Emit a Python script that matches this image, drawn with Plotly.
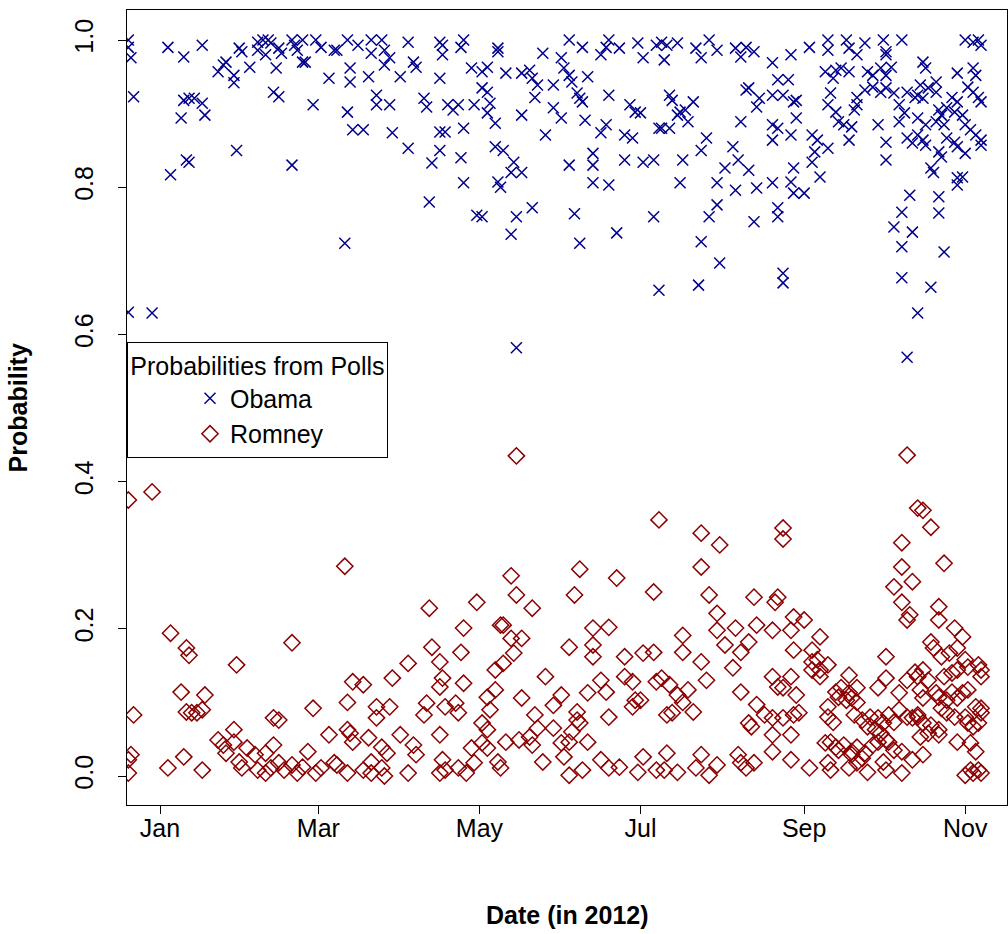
import pandas as pd
import plotly.graph_objects as go

# Days counted from 2012-01-01 (negative = December 2011)
obama_day = [
    -12, -12, -11, -10, -12, -3, 3, 4, 8, 9, 9, 10, 11, 11, 13, 16, 16, 17, 22, 24, 25, 28, 28, 29,
    30, 31, 34, 37, 39, 41, 37, 40, 42, 45, 44, 43, 45, 46, 50, 50, 51, 52, 54,
    54, 55, 59, 61, 66, 67, 71, 72, 72, 64, 58, 71, 73, 77, 75, 80, 80, 79, 84, 85, 85, 87, 82, 82,
    87, 88, 91, 94, 94, 96, 97, 70, 100, 101, 102, 103, 106, 107, 107, 106, 106, 108, 106, 109, 111,
    113, 114, 115, 115, 115, 114, 118, 119, 120,
    128, 128, 145, 124, 122, 131, 137, 140, 141, 143, 122, 124, 125, 124, 127, 142, 137, 146, 149,
    152, 153, 155, 156, 155, 160, 167, 169, 170, 174, 181, 183, 188, 162, 158, 159, 160, 149, 152,
    161, 170, 169, 167, 176, 179, 178, 180, 182, 189, 127, 130, 134, 133, 137, 128, 129, 122, 135,
    141, 133, 157, 159, 155, 164, 164, 164, 170, 176, 183, 187, 173, 187, 135, 189,
    190, 192, 196, 191, 203, 205, 208, 211, 218, 220, 222, 225, 232, 239, 246, 234, 238, 222, 223,
    193, 194, 202, 197, 199, 200, 196, 227, 232, 236, 240, 241, 226, 190, 193, 207, 220, 232, 234,
    239, 241, 232, 247, 248, 247, 205, 217, 219, 214, 223, 240, 198, 197, 211, 218, 226, 232, 239,
    240, 244, 211, 208, 225, 234, 234, 205, 212, 236, 236, 204,
    253, 260, 267, 274, 281, 253, 261, 264, 275, 275, 252, 256, 258, 261, 255, 268, 270, 273, 277,
    275, 267, 270, 273, 275, 278, 254, 253, 256, 264, 264, 263, 283, 286, 280, 282, 257, 259, 262,
    272, 280, 249, 253, 261, 275, 275, 283, 285, 250, 284, 281, 278, 285, 281, 281, 287, 283,
    305, 308, 310, 311, 289, 290, 302, 308, 309, 288, 291, 294, 294, 306, 308, 310, 311, 287, 289,
    300, 302, 295, 296, 298, 301, 304, 287, 290, 294, 297, 305, 307, 309, 311, 311, 287, 289, 290,
    298, 301, 302, 305, 295, 296, 292, 293, 302, 304, 302, 295, 295, 297, 292,
]
obama_prob = [
    1.00, 0.99, 0.976, 0.923, 0.63, 0.629, 0.99, 0.817, 0.894, 0.977, 0.918, 0.837, 0.834, 0.921,
    0.921, 0.993, 0.914, 0.898, 0.957, 0.966, 0.97, 0.952, 0.942, 0.85,
    0.989, 0.984, 0.963, 0.997, 1.0, 1.0, 0.986, 0.98, 0.996, 0.989, 0.962, 0.929, 0.923, 0.982,
    0.83, 1.0, 0.993, 0.986, 0.97,
    1.0, 0.97, 1.0, 0.99, 0.986, 0.986, 1.0, 0.962, 0.943, 0.948, 0.912, 0.902, 0.878, 0.878, 0.993,
    1.0, 0.982, 0.95, 1.0, 0.986, 0.966, 0.976, 0.925, 0.912,
    0.912, 0.874, 0.95, 0.997, 0.853, 0.97, 0.963, 0.724, 0.921, 0.909, 0.78, 0.833, 0.997, 0.993,
    0.98, 0.948, 0.875, 0.875, 0.85, 0.912, 0.905,
    0.912, 0.84, 0.88, 0.806, 1.0, 0.99, 0.962, 0.912, 0.762,
    0.989, 0.984, 0.982, 0.963, 0.957, 0.955, 0.955, 0.959, 0.948, 0.939, 0.935, 0.929, 0.914,
    0.901, 0.887, 0.922, 0.898, 0.871, 0.939,
    0.976, 0.962, 0.952, 0.943, 1.0, 0.99, 0.98, 0.99, 1.0, 0.989, 0.996, 0.976, 0.993, 0.95,
    0.928, 0.921, 0.916, 0.908, 0.894,
    0.891, 0.925, 0.885, 0.874, 0.871, 0.867, 0.912, 0.902, 0.901, 0.88, 0.855, 0.85, 0.834, 0.82,
    0.82, 0.807, 0.8, 0.76, 0.76,
    0.772, 0.736, 0.764, 0.724, 0.83, 0.846, 0.83, 0.806, 0.803, 0.837, 0.834, 0.837, 0.738, 0.76,
    0.582, 0.66,
    0.997, 0.993, 0.996, 0.973, 0.989, 0.976, 1.0, 0.986, 0.989, 0.977, 0.99, 0.984, 0.969, 0.98,
    0.99, 0.946, 0.946, 0.932, 0.935,
    0.925, 0.918, 0.916, 0.902, 0.905, 0.889, 0.898, 0.921, 0.925, 0.925, 0.916, 0.918, 0.909,
    0.88, 0.88, 0.867, 0.889, 0.885, 0.88,
    0.871, 0.894, 0.864, 0.871, 0.848, 0.834, 0.85, 0.855, 0.837, 0.826, 0.823, 0.826, 0.837,
    0.806, 0.806, 0.796, 0.799, 0.806, 0.807,
    0.792, 0.792, 0.776, 0.76, 0.753, 0.772, 0.76, 0.726, 0.697, 0.683, 0.67, 0.667,
    1.0, 1.0, 0.996, 1.0, 1.0, 0.986, 0.989, 0.98, 0.984, 0.98, 0.957, 0.959, 0.962, 0.957, 0.948,
    0.957, 0.952, 0.962, 0.963,
    0.952, 0.932, 0.936, 0.929, 0.935, 0.928, 0.928, 0.912, 0.902, 0.922, 0.912, 0.905, 0.929,
    0.922, 0.912, 0.901, 0.889, 0.885, 0.882,
    0.885, 0.889, 0.864, 0.853, 0.864, 0.861, 0.837, 0.867, 0.86, 0.814, 0.789, 0.766, 0.746,
    0.739, 0.719, 0.677, 0.629, 0.569,
    1.0, 0.997, 1.0, 0.993, 0.97, 0.962, 0.955, 0.962, 0.952, 0.939, 0.935, 0.943, 0.929, 0.936,
    0.929, 0.922, 0.916, 0.925, 0.921,
    0.922, 0.916, 0.905, 0.898, 0.908, 0.902, 0.898, 0.894, 0.885, 0.889, 0.885, 0.885, 0.878,
    0.871, 0.864, 0.857, 0.871, 0.864, 0.857,
    0.867, 0.861, 0.855, 0.846, 0.848, 0.841, 0.826, 0.82, 0.813, 0.814, 0.803, 0.787, 0.765,
    0.712, 0.664,
]

romney_day = [
    -12, -3, 4, 10, 11, 29, 50, -10, 8, 17, 10, 12, 14, 16, -11, -12, -12, 3, 9, 16, 22, 24, 25,
    28, 28, 33, 36, 40, 43, 30, 31, 37, 40, 42, 45, 47, 50, 52, 54, 43, 45,
    70, 102, 120, 115, 114, 103, 106, 94, 88, 73, 77, 115, 107, 106, 71, 58, 82, 87, 82, 101, 100,
    108, 112, 113, 64, 71, 72, 73, 79, 91, 96, 97, 106, 118, 56, 84, 86, 119, 59, 61, 66, 67, 71,
    77, 80, 80, 84, 85, 94, 107, 106, 108, 113, 116,
    135, 189, 133, 159, 173, 135, 157, 187, 141, 129, 130, 133, 137, 134, 164, 170, 155, 164, 164,
    176, 183, 187, 127, 130, 146, 167, 169, 176, 179, 188, 124, 127, 137, 152, 149, 162, 180, 182,
    179, 125, 142, 158, 158, 170, 122, 124, 143, 149, 156, 159, 131, 136, 140, 141, 152, 155, 162,
    124, 122, 153, 128, 129, 145, 167, 170, 174, 183, 181, 155, 160, 188,
    205, 212, 236, 236, 205, 208, 225, 234, 233, 211, 240, 244, 211, 218, 226, 232, 239, 198, 214,
    223, 220, 198, 240, 247, 205, 217, 247, 247, 207, 190, 193, 200, 196, 198, 202, 192, 194, 220,
    232, 234, 236, 239, 241, 226, 223, 224, 229, 232, 236, 240, 242, 232, 239, 192, 191, 196, 205,
    203, 208, 211, 219, 220, 222, 225, 232, 239, 246,
    283, 287, 281, 281, 278, 285, 281, 284, 283, 250, 275, 249, 250, 253, 250, 261, 272, 275, 280,
    283, 286, 256, 258, 261, 264, 257, 260, 262, 264, 253, 253, 255, 263, 266, 269, 272, 274, 276,
    278, 280, 283, 285, 287, 268, 271, 273, 275, 252, 254, 256, 257, 259, 262, 264, 267, 270, 272,
    276, 278, 281, 285, 253, 254, 261, 264, 268, 274, 275, 281, 262, 266,
    289, 292, 297, 295, 295, 301, 304, 292, 293, 296, 299, 302, 305, 306, 310, 311, 311, 289, 287,
    291, 297, 300, 302, 288, 289, 294, 295, 298, 300, 302, 304, 306, 309, 311, 311, 296, 298, 301,
    305, 306, 308, 310, 287, 289, 292, 295, 288, 291, 295, 302, 307, 309, 289, 307, 308, 310, 311,
    305,
]
romney_prob = [
    0.375, 0.386, 0.194, 0.174, 0.164, 0.151, 0.181, 0.083, 0.114, 0.11, 0.087, 0.086, 0.086, 0.09,
    0.029, 0.022, 0.004, 0.011, 0.026, 0.008, 0.049, 0.042, 0.031,
    0.063, 0.046, 0.038, 0.029, 0.031, 0.042, 0.019, 0.011, 0.008, 0.004, 0.011, 0.018, 0.008,
    0.015, 0.004, 0.012, 0.079, 0.076,
    0.285, 0.228, 0.236, 0.201, 0.168, 0.175, 0.155, 0.153, 0.133, 0.128, 0.124, 0.126, 0.133,
    0.121, 0.1, 0.092, 0.094, 0.094, 0.079, 0.099, 0.083,
    0.094, 0.099, 0.086, 0.056, 0.063, 0.058, 0.046, 0.052, 0.056, 0.042, 0.029, 0.056, 0.038,
    0.033, 0.039, 0.031, 0.018, 0.004, 0.011, 0.018, 0.015, 0.004,
    0.008, 0.019, 0.004, 0.011, 0.0, 0.004, 0.022, 0.004, 0.008, 0.011, 0.004,
    0.435, 0.348, 0.272, 0.281, 0.269, 0.246, 0.246, 0.25, 0.228, 0.205, 0.205, 0.187, 0.187,
    0.167, 0.201, 0.202, 0.175, 0.178, 0.162,
    0.162, 0.167, 0.168, 0.144, 0.153, 0.135, 0.13, 0.114, 0.135, 0.128, 0.128, 0.107, 0.117,
    0.106, 0.11, 0.096, 0.113, 0.103, 0.103,
    0.094, 0.09, 0.083, 0.087, 0.076, 0.08, 0.072, 0.063, 0.065, 0.065, 0.06, 0.072, 0.046, 0.049,
    0.053, 0.042, 0.045, 0.046, 0.046,
    0.038, 0.045, 0.026, 0.019, 0.011, 0.019, 0.022, 0.011, 0.012, 0.026, 0.005, 0.001, 0.008,
    0.008,
    0.33, 0.314, 0.337, 0.322, 0.284, 0.246, 0.243, 0.243, 0.236, 0.221, 0.216, 0.212, 0.198,
    0.201, 0.205, 0.198, 0.198, 0.191, 0.178,
    0.182, 0.168, 0.168, 0.171, 0.171, 0.155, 0.147, 0.155, 0.144, 0.13, 0.133, 0.124, 0.117, 0.11,
    0.1, 0.087, 0.083, 0.086, 0.114,
    0.135, 0.121, 0.12, 0.135, 0.11, 0.097, 0.072, 0.067, 0.083, 0.079, 0.079, 0.083, 0.086,
    0.056, 0.056, 0.031, 0.008, 0.005, 0.029,
    0.011, 0.001, 0.015, 0.029, 0.018, 0.011, 0.018, 0.033, 0.022, 0.011,
    0.436, 0.364, 0.317, 0.284, 0.257, 0.264, 0.236, 0.219, 0.212, 0.189, 0.162, 0.158, 0.144,
    0.151, 0.135, 0.137, 0.12, 0.133, 0.113,
    0.13, 0.141, 0.114, 0.12, 0.113, 0.12, 0.107, 0.103, 0.106, 0.1, 0.094, 0.08, 0.073, 0.083,
    0.076, 0.08, 0.079, 0.072, 0.083,
    0.073, 0.09, 0.08, 0.079, 0.083, 0.067, 0.063, 0.058, 0.049, 0.045, 0.046, 0.039, 0.035, 0.042,
    0.033, 0.039, 0.031, 0.042, 0.046,
    0.046, 0.035, 0.033, 0.022, 0.018, 0.008, 0.011, 0.018, 0.005, 0.019, 0.008, 0.004, 0.029,
    0.024,
    0.361, 0.338, 0.289, 0.23, 0.212, 0.201, 0.189, 0.182, 0.174, 0.162, 0.167, 0.174, 0.158,
    0.148, 0.151, 0.144, 0.135, 0.144, 0.135,
    0.13, 0.135, 0.14, 0.144, 0.117, 0.106, 0.113, 0.107, 0.103, 0.114, 0.106, 0.113, 0.117, 0.094,
    0.092, 0.086, 0.092, 0.086, 0.08,
    0.08, 0.072, 0.067, 0.072, 0.08, 0.072, 0.069, 0.063, 0.053, 0.058, 0.056, 0.046, 0.045, 0.033,
    0.029, 0.008, 0.004, 0.008, 0.004,
    0.001,
]

month_ticks = ["2012-01-01", "2012-03-01", "2012-05-01", "2012-07-01", "2012-09-01", "2012-11-01"]
month_labels = ["Jan", "Mar", "May", "Jul", "Sep", "Nov"]
prob_ticks = [0.0, 0.2, 0.4, 0.6, 0.8, 1.0]
prob_labels = ["0.0", "0.2", "0.4", "0.6", "0.8", "1.0"]

base = pd.Timestamp("2012-01-01")
obama_dates = [base + pd.Timedelta(days=d) for d in obama_day]
romney_dates = [base + pd.Timedelta(days=d) for d in romney_day]

FONT = "Liberation Sans, Arial, Helvetica, sans-serif"
FS = 25

fig = go.Figure()
fig.add_trace(go.Scatter(
    x=obama_dates, y=obama_prob, mode="markers", name="Obama",
    marker=dict(symbol="x-thin-open", size=11, color="#00008B",
                line=dict(color="#00008B", width=1.5)),
))
fig.add_trace(go.Scatter(
    x=romney_dates, y=romney_prob, mode="markers", name="Romney",
    marker=dict(symbol="diamond-open", size=12.5, color="#8B0000",
                line=dict(color="#8B0000", width=1.5)),
))

fig.update_layout(
    width=1008, height=934,
    margin=dict(l=127, r=1, t=10, b=129),
    paper_bgcolor="white", plot_bgcolor="white",
    font=dict(family=FONT, size=FS, color="black"),
    showlegend=True,
    legend=dict(
        x=0, xanchor="left", y=0.5824, yanchor="top",
        bgcolor="white", bordercolor="black", borderwidth=1,
        font=dict(family=FONT, size=FS, color="black"),
        title=dict(text="Probabilities from Polls", side="top center",
                   font=dict(family=FONT, size=FS, color="black")),
        indentation=62,
        tracegroupgap=0,
    ),
    xaxis=dict(
        range=["2011-12-19 12:00", "2012-11-16 20:00"],
        tickmode="array", tickvals=month_ticks, ticktext=month_labels,
        ticks="outside", ticklen=8, tickwidth=1, tickcolor="black",
        ticklabelstandoff=-7,
        showline=True, linecolor="black", linewidth=1, mirror=True,
        showgrid=False, zeroline=False,
        tickfont=dict(family=FONT, size=FS),
    ),
    yaxis=dict(
        range=[-0.0394, 1.0408],
        tickmode="array", tickvals=prob_ticks, ticktext=prob_labels,
        ticks="outside", ticklen=8, tickwidth=1, tickcolor="black",
        tickangle=-90, ticklabelstandoff=15,
        showline=True, linecolor="black", linewidth=1, mirror=True,
        showgrid=False, zeroline=False,
        tickfont=dict(family=FONT, size=FS),
    ),
    annotations=[
        dict(text="<b>Date (in 2012)</b>", xref="paper", yref="paper",
             x=0.5, y=-0.138, xanchor="center", yanchor="middle",
             showarrow=False, font=dict(family=FONT, size=FS)),
        dict(text="<b>Probability</b>", xref="paper", yref="paper",
             x=-0.124, y=0.5, xanchor="center", yanchor="middle", textangle=-90,
             showarrow=False, font=dict(family=FONT, size=FS)),
    ],
)

fig.write_html("out.html")
